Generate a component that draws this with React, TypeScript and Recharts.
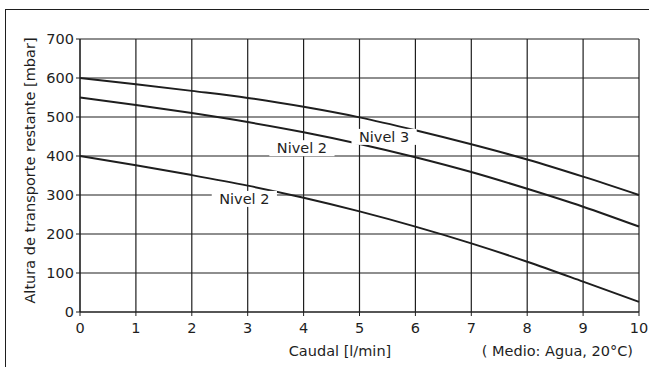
import React from "react"
import {
  CartesianGrid,
  Label,
  Line,
  LineChart,
  ReferenceDot,
  XAxis,
  YAxis,
} from "recharts"

// Caudal [l/min]
const caudal = [0, 1, 2, 3, 4, 5, 6, 7, 8, 9, 10]
// Altura de transporte restante [mbar]
const nivel3 = [600, 584, 567, 549, 526, 499, 466, 430, 391, 347, 300]
const nivel2Alto = [550, 531, 510, 487, 461, 431, 397, 359, 316, 270, 219]
const nivel2Bajo = [400, 376, 351, 324, 293, 258, 219, 176, 129, 78, 26]
const yTicks = [0, 100, 200, 300, 400, 500, 600, 700]

// curve names placed on the chart (data coordinates)
const tags = [
  { text: "Nivel 3", x: 5.44, y: 449 },
  { text: "Nivel 2", x: 3.97, y: 420 },
  { text: "Nivel 2", x: 2.94, y: 290 },
]

const data = caudal.map((c, i) => ({
  caudal: c,
  nivel3: nivel3[i],
  nivel2Alto: nivel2Alto[i],
  nivel2Bajo: nivel2Bajo[i],
}))

const INK = "#1e1e1e"
const FONT = "'DejaVu Sans', sans-serif"
const FS = 14.5

function tagShape(text: string) {
  return (props: any) => {
    const { cx, cy } = props
    const w = text.length * 7.6 + 12
    return (
      <g>
        <rect x={cx - w / 2} y={cy - 8} width={w} height={16} fill="#fff" />
        <text
          x={cx}
          y={cy}
          textAnchor="middle"
          dominantBaseline="central"
          fontFamily={FONT}
          fontSize={FS}
          fill={INK}
        >
          {text}
        </text>
      </g>
    )
  }
}

function YTitle({ viewBox }: any) {
  const cy = viewBox.y + viewBox.height / 2 - 5
  return (
    <text
      x={30}
      y={cy}
      transform={`rotate(-90 30 ${cy})`}
      textAnchor="middle"
      dominantBaseline="central"
      fontFamily={FONT}
      fontSize={FS}
      fill={INK}
    >
      Altura de transporte restante [mbar]
    </text>
  )
}

function XTitle({ viewBox }: any) {
  const y = viewBox.y + 39
  return (
    <g fontFamily={FONT} fontSize={FS} fill={INK}>
      <text x={340} y={y} textAnchor="middle" dominantBaseline="central">
        Caudal [l/min]
      </text>
      <text
        x={viewBox.x + viewBox.width - 6}
        y={y}
        textAnchor="end"
        dominantBaseline="central"
      >
        ( Medio: Agua, 20°C)
      </text>
    </g>
  )
}

export default function App() {
  return (
    <div
      style={{
        position: "absolute",
        left: 0,
        top: 0,
        width: 649,
        height: 367,
        background: "#fff",
        overflow: "hidden",
      }}
    >
      <div
        style={{
          position: "absolute",
          left: 5,
          top: 9,
          width: 700,
          height: 400,
          borderLeft: `1.5px solid ${INK}`,
          borderTop: `1.5px solid ${INK}`,
        }}
      />
      <LineChart
        width={649}
        height={367}
        data={data}
        margin={{ top: 39, right: 10, bottom: 0, left: 0 }}
        style={{ position: "absolute", left: 0, top: 0 }}
      >
        <CartesianGrid stroke={INK} strokeWidth={1.2} />
        <XAxis
          dataKey="caudal"
          type="number"
          domain={[0, 10]}
          ticks={caudal}
          height={55}
          tickSize={4}
          tickMargin={7}
          stroke={INK}
          tick={{ fill: INK, fontSize: FS, fontFamily: FONT }}
        >
          <Label content={<XTitle />} />
        </XAxis>
        <YAxis
          type="number"
          domain={[0, 700]}
          ticks={yTicks}
          width={80}
          tickSize={4}
          tickMargin={2}
          stroke={INK}
          tick={{ fill: INK, fontSize: FS, fontFamily: FONT }}
        >
          <Label content={<YTitle />} />
        </YAxis>
        {tags.map((t, i) => (
          <ReferenceDot
            key={i}
            x={t.x}
            y={t.y}
            r={1}
            shape={tagShape(t.text)}
          />
        ))}
        <Line
          dataKey="nivel3"
          type="monotone"
          stroke={INK}
          strokeWidth={2}
          dot={false}
          isAnimationActive={false}
        />
        <Line
          dataKey="nivel2Alto"
          type="monotone"
          stroke={INK}
          strokeWidth={2}
          dot={false}
          isAnimationActive={false}
        />
        <Line
          dataKey="nivel2Bajo"
          type="monotone"
          stroke={INK}
          strokeWidth={2}
          dot={false}
          isAnimationActive={false}
        />
      </LineChart>
    </div>
  )
}
